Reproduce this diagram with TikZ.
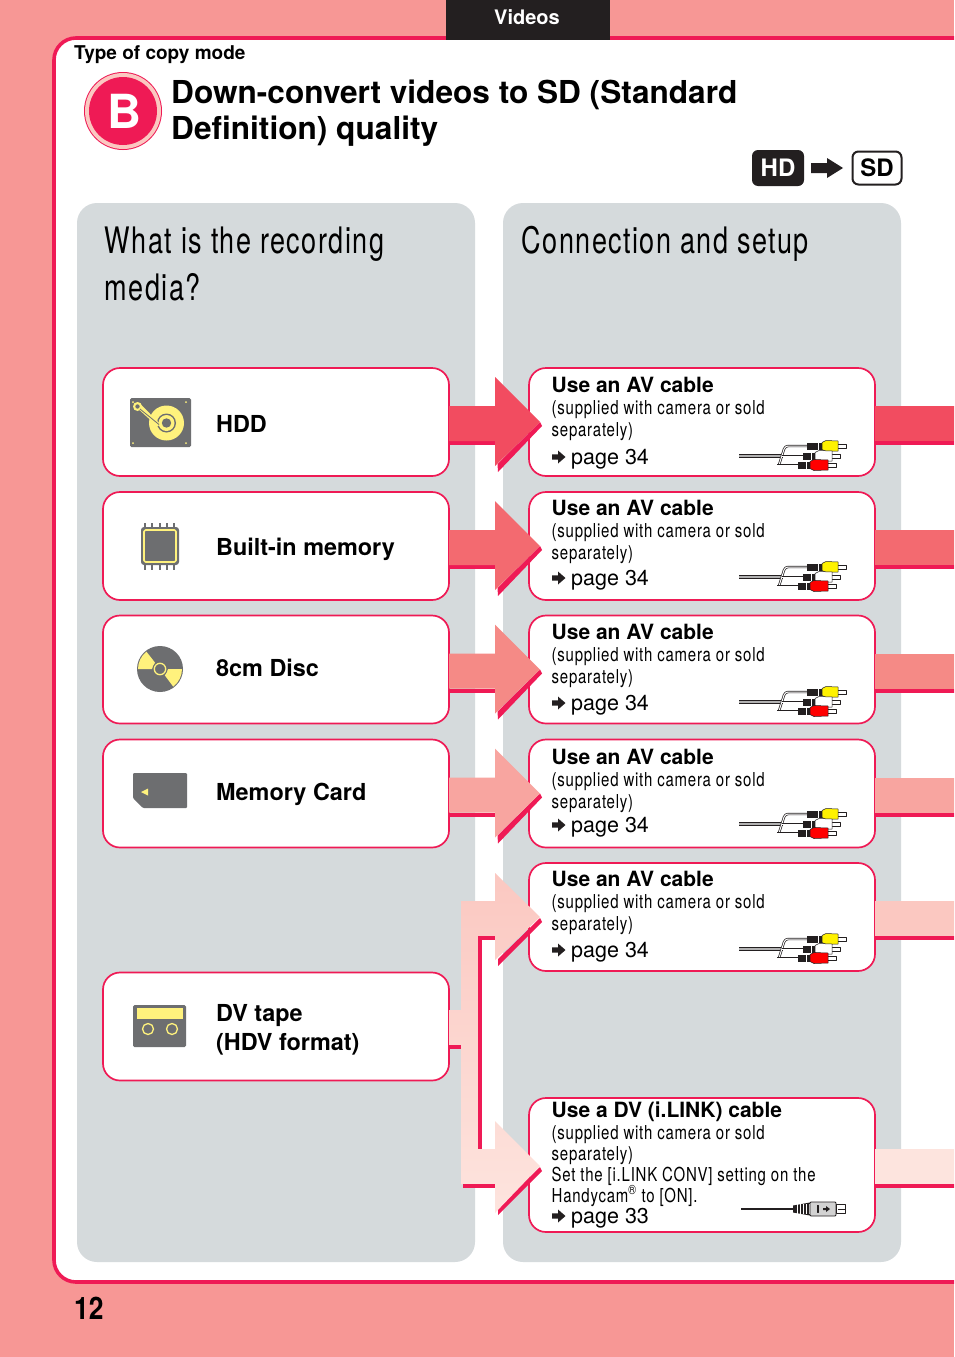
\documentclass[tikz,border=0pt]{standalone}
\usepackage{fontspec}
\setmainfont{TeX Gyre Heros}
\newfontfamily\narrowfont[FakeStretch=0.78,LetterSpace=4]{TeX Gyre Heros}
\newfontfamily\bigfont[FakeStretch=0.74,LetterSpace=4]{TeX Gyre Heros}
\newfontfamily\numfont[FakeStretch=0.85]{TeX Gyre Heros}
\definecolor{crimson}{HTML}{EF1A55}
\definecolor{pagepink}{HTML}{F79795}
\definecolor{panelgray}{HTML}{D5DADC}
\definecolor{icongray}{HTML}{6D6E70}
\definecolor{iconyellow}{HTML}{FFF27D}
\definecolor{inkblack}{HTML}{231F20}
\definecolor{arrowa}{HTML}{F24C60}
\definecolor{arrowb}{HTML}{F36A70}
\definecolor{arrowc}{HTML}{F58A86}
\definecolor{arrowd}{HTML}{F8A5A0}
\definecolor{arrowe}{HTML}{FBC8C1}
\definecolor{arrowf}{HTML}{FDE4DE}
\begin{document}
\begin{tikzpicture}[x=1pt, y=-1pt, line join=round]
	\tikzset{
		box style/.style={draw=crimson, fill=white, line width=1.7pt, rounded corners=17pt, inner sep=0pt, outer sep=0pt, minimum width=346pt, minimum height=108pt},
		panel style/.style={fill=panelgray, rounded corners=20pt},
		txt style/.style={inner sep=0pt, anchor=base west},
		medium style/.style={txt style, font=\fontsize{23.4}{27}\selectfont\bfseries},
		head style/.style={txt style, font=\fontsize{21}{25}\selectfont\bfseries},
		note style/.style={txt style, font=\fontsize{19.2}{23}\selectfont\narrowfont},
		page style/.style={txt style, font=\fontsize{21.5}{25}\selectfont},
		big style/.style={txt style, font=\fontsize{36.5}{44}\selectfont\bigfont},
		wire style/.style={draw=inkblack, line width=.7pt, double=white, double distance=1pt, rounded corners=3pt},
		cable/.pic={
			\draw[inkblack, line width=3.4pt] (0,1)--(44,1);
			\draw[gray!60, line width=1.4pt] (0,1)--(44,1);
			\draw[wire style] (40,10)--(46,-9)--(70,-9);
			\draw[wire style] (38,10)--(62,10);
			\draw[wire style] (43,1)--(66,1);
			\foreach \py/\px/\plug/\bx/\ex in {-9/68/yellow/83/99, 1/64/white/76/93, 10/59/red/71/89}{
				\draw[fill=white, draw=inkblack, line width=.7pt] (\ex-1,\py-2) rectangle (\ex+8,\py+2);
				\fill[inkblack] (\px,\py-3.5) rectangle (\bx,\py+3.5);
				\draw[white, line width=.6pt] (\bx-4,\py-3.5) -- (\bx-4,\py+3.5);
				\draw[fill=\plug, draw=inkblack, line width=.5pt] (\bx,\py-3.5) -- (\bx+4,\py-5.5) -- (\ex,\py-5) -- (\ex,\py+5) -- (\bx+4,\py+5.5) -- (\bx,\py+3.5) -- cycle;
			}
		},
		dvplug/.pic={
			\draw[inkblack, line width=2.4pt] (0,0)--(53,0);
			\fill[inkblack] (52,-3.5) -- (69,-6.5) -- (69,6.5) -- (52,3.5) -- cycle;
			\foreach \rx in {56,59,...,68}{\draw[white, line width=.7pt] (\rx,-5) -- (\rx,5);}
			\draw[fill=gray!35, draw=inkblack, line width=.9pt, rounded corners=1pt] (69,-7) rectangle (95,7);
			\draw[inkblack, line width=.7pt] (76,-3.5) rectangle (77.5,3.5);
			\fill[inkblack] (82,-1) -- (85,-1) -- (85,-3) -- (89,0) -- (85,3) -- (85,1) -- (82,1) -- cycle;
			\draw[fill=white, draw=inkblack, line width=.8pt] (95,-4.5) rectangle (104,4.5);
			\draw[inkblack, line width=.7pt] (97,0) -- (104,0);
		},
		pagemark/.pic={
			\fill[inkblack] (0,-2.6) -- (6,-2.6) -- (6,-6.5) -- (13.5,0) -- (6,6.5) -- (6,2.6) -- (0,2.6) -- cycle;
		}
	}
	\useasboundingbox (0,0) rectangle (954,1357);
	\clip (0,0) rectangle (954,1357);
	\fill[pagepink] (0,0) rectangle (954,1357);
	% page frame
	\draw[crimson, fill=white, line width=3.6pt, rounded corners=22pt] (54,38) rectangle (1000,1282);
	\fill[inkblack] (446,0) rectangle (610,39.5);
	\node[inner sep=0pt, font=\fontsize{20}{24}\selectfont\bfseries, text=white] (tab) at (527,17) {Videos};
	\node[txt style, font=\fontsize{19}{23}\selectfont\bfseries] (mode) at (74,59) {Type of copy mode};
	\fill[crimson] (123,111) circle[radius=39pt];
	\fill[arrowe] (123,111) circle[radius=38pt];
	\fill[crimson] (123,111) circle[radius=34pt];
	\node[inner sep=0pt, font=\fontsize{47}{50}\selectfont\bfseries, text=white] (letter) at (124,111) {B};
	\node[txt style, font=\fontsize{31.6}{36}\selectfont\bfseries] (title) at (171,103.5) {Down-convert videos to SD (Standard};
	\node[txt style, font=\fontsize{31.6}{36}\selectfont\bfseries] (titleb) at (171,139.5) {Definition) quality};
	% HD to SD
	\node[fill=inkblack, text=white, rounded corners=6pt, inner sep=0pt, minimum width=52pt, minimum height=36pt, font=\fontsize{24}{29}\selectfont\bfseries] (hd) at (778,168) {HD};
	\node[draw=inkblack, line width=2pt, fill=white, rounded corners=6pt, inner sep=0pt, minimum width=49pt, minimum height=33pt, font=\fontsize{24}{29}\selectfont\bfseries] (sd) at (877,168) {SD};
	\fill[inkblack] (811,163) -- (827,163) -- (827,158) -- (843,168) -- (827,178) -- (827,173) -- (811,173) -- cycle;
	% panels
	\fill[panel style] (77,203) rectangle (475,1262);
	\fill[panel style] (503,203) rectangle (901,1262);
	\node[big style] (asktop) at (104.5,253) {What is the recording};
	\node[big style] (askbot) at (104.5,300) {media?};
	\node[big style] (setup) at (521.5,253) {Connection and setup};
	% boxes
	\foreach \k/\cy in {1/422, 2/546, 3/669.5, 4/793.5, 5/1026.5}{
		\node[box style] (med\k) at (276,\cy) {};
	}
	\foreach \k/\cy in {1/422, 2/546, 3/669.5, 4/793.5, 5/917}{
		\node[box style] (set\k) at (702,\cy) {};
	}
	\node[box style, minimum height=134pt] (set6) at (702,1165) {};
	% arrows of the first four rows
	\foreach \k/\col in {1/arrowa, 2/arrowb, 3/arrowc, 4/arrowd}{
		\begin{scope}[shift={(med\k.east)}]
			\fill[crimson] (91,0) -- (93,4) -- (49,50) -- (48.5,42) -- cycle;
			\fill[crimson] (0,19) rectangle (46,23);
			\fill[\col] (0,-16) -- (46,-16) -- (46,-45) -- (91,0) -- (46,44) -- (46,19) -- (0,19) -- cycle;
		\end{scope}
		\begin{scope}[shift={(set\k.east)}]
			\fill[crimson] (0,19) rectangle (90,23);
			\fill[\col] (0,-16) rectangle (90,19);
		\end{scope}
	}
	% forked arrow of the dv tape
	\fill[crimson] (540,918) -- (542,922) -- (498,966) -- (498,959) -- cycle;
	\fill[crimson] (540,1167) -- (542,1171) -- (498,1215) -- (498,1208) -- cycle;
	\shade[top color=arrowe, bottom color=arrowf] (461,901) -- (495,901) -- (495,873) -- (540,917) -- (495,960) -- (495,936) -- (478,936) -- (478,1149) -- (495,1149) -- (495,1121) -- (540,1166) -- (495,1213) -- (495,1184) -- (461,1184) -- (461,1045) -- (med5.east |- 0,1045) -- (med5.east |- 0,1010) -- (461,1010) -- cycle;
	\fill[crimson] (478,936) rectangle (495,940);
	\fill[crimson] (478,936) rectangle (482,1149);
	\fill[crimson] (med5.east |- 0,1045) rectangle (461,1049);
	\fill[crimson] (463,1184) rectangle (495,1188);
	\foreach \k/\col in {5/arrowe, 6/arrowf}{
		\begin{scope}[shift={(set\k.east)}]
			\fill[crimson] (0,19) rectangle (90,23);
			\fill[\col] (0,-16) rectangle (90,19);
		\end{scope}
	}
	% media
	\node[medium style] (hddtxt) at (216,432) {HDD};
	\node[medium style] (memtxt) at (216,555) {Built-in memory};
	\node[medium style] (disctxt) at (216,676) {8cm Disc};
	\node[medium style] (cardtxt) at (216,800) {Memory Card};
	\node[medium style] (tapetxt) at (216,1021) {DV tape};
	\node[medium style] (hdvtxt) at (216,1050) {(HDV format)};
	% hdd icon
	\fill[icongray, rounded corners=1.5pt] (130,398) rectangle (191,447);
	\fill[iconyellow] (166.5,423) circle[radius=17.5pt];
	\fill[icongray] (166.5,423) circle[radius=9.5pt];
	\fill[iconyellow] (166.5,423) circle[radius=8pt];
	\fill[icongray] (166.5,423) circle[radius=4.7pt];
	\fill[iconyellow] (134,405) -- (139,402.5) -- (161,425) -- (157,426) -- cycle;
	\fill[iconyellow] (137.5,406.5) circle[radius=4.5pt];
	\fill[icongray] (137.5,406.5) circle[radius=2.2pt];
	\draw[icongray, line width=.8pt] (140,409) -- (159,424.5);
	\foreach \sx/\sy in {133,186}{
		\fill[iconyellow] (\sx,402) circle[radius=1pt];
		\fill[iconyellow] (\sx,443) circle[radius=1pt];
	}
	% chip icon
	\foreach \px in {145,152,159.5,167,174}{
		\draw[icongray, line width=2pt] (\px,523) -- (\px,570);
	}
	\fill[icongray, rounded corners=3pt] (141,527) rectangle (179,565);
	\draw[iconyellow, line width=1.6pt, rounded corners=1.5pt] (144,530) rectangle (176,562);
	% disc icon
	\fill[icongray] (160,669) circle[radius=23pt];
	\begin{scope}[shift={(160,669)}]
		\fill[iconyellow] (180:22)--(193:22)--(206:22)--(219:22)--(232:22)--(232:8)--(180:8)--cycle;
		\fill[iconyellow] (0:22)--(13:22)--(26:22)--(40:22)--(53:22)--(53:8)--(0:8)--cycle;
	\end{scope}
	\draw[icongray, line width=1pt] (160,669) circle[radius=7pt];
	\draw[iconyellow, line width=1.3pt] (160,669) circle[radius=5.7pt];
	% card icon
	\fill[icongray, rounded corners=1pt] (133,773) -- (187,773) -- (187,808) -- (143,808) -- (133,798) -- cycle;
	\fill[iconyellow] (141,792) -- (148,788.5) -- (148,795.5) -- cycle;
	% tape icon
	\fill[icongray, rounded corners=1.5pt] (133,1005) rectangle (186,1047);
	\fill[iconyellow] (137,1008) rectangle (183,1019);
	\draw[iconyellow, line width=1.3pt] (148,1029) circle[radius=5.5pt];
	\draw[iconyellow, line width=1.3pt] (172,1029) circle[radius=5.5pt];
	% connection text
	\foreach \k/\by/\py in {1/392/464, 2/515/585, 3/639/710, 4/764/832, 5/886/957}{
		\node[head style] (use\k) at (551.5,\by) {Use an AV cable};
		\node[note style] (sold\k) at (551.5,\by+22.5) {(supplied with camera or sold};
		\node[note style] (sep\k) at (551.5,\by+44.5) {separately)};
		\node[page style] (page\k) at (571,\py) {page 34};
		\pic at (552,\py-7) {pagemark};
		\pic at (739,\py-9) {cable};
	}
	\node[head style] (usedv) at (551.5,1117) {Use a DV (i.LINK) cable};
	\node[note style] (soldb) at (551.5,1139.5) {(supplied with camera or sold};
	\node[note style] (sepb) at (551.5,1160.5) {separately)};
	\node[note style] (iset) at (551.5,1181.5) {Set the [i.LINK CONV] setting on the};
	\node[note style] (handy) at (551.5,1202.5) {Handycam\textsuperscript{®} to [ON].};
	\node[page style] (pagedv) at (571,1223) {page 33};
	\pic at (552,1216) {pagemark};
	\pic at (741,1209) {dvplug};
	\node[txt style, font=\fontsize{31}{35}\selectfont\bfseries\numfont] (pagenum) at (74,1319) {12};
\end{tikzpicture}
\end{document}
